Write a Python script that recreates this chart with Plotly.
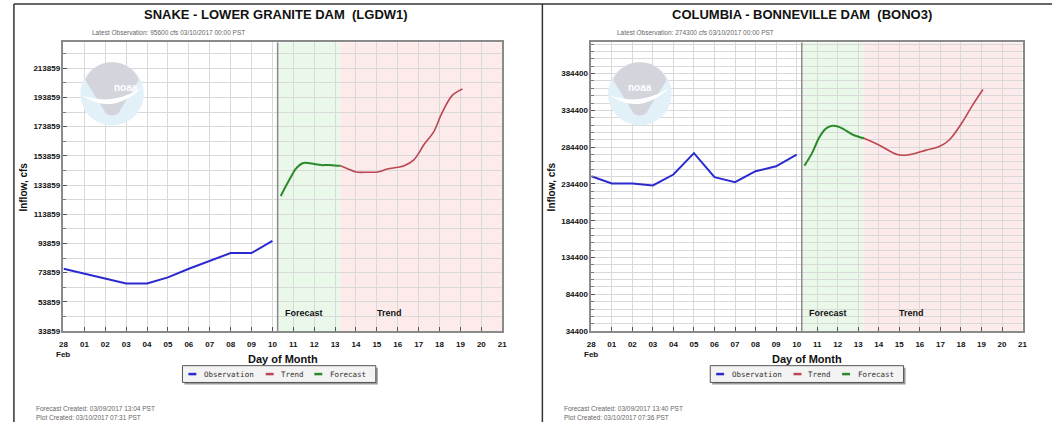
import plotly.graph_objects as go

W, H = 1057, 427

# ---------------- data ----------------
day_labels = ["28", "01", "02", "03", "04", "05", "06", "07", "08", "09", "10",
              "11", "12", "13", "14", "15", "16", "17", "18", "19", "20", "21"]

obs_days = [0, 1, 2, 3, 4, 5, 6, 7, 8, 9, 10]
snake_obs = [76500, 73200, 69900, 66500, 66500, 70600, 76500, 81700, 87300, 87300, 95600]
snake_fc_days = [10.4, 10.6, 10.77, 10.95, 11.08, 11.3, 11.48, 11.7, 12.0, 12.35, 12.66, 13.0, 13.26]
snake_fc = [126300, 132000, 136500, 141000, 144300, 147500, 148900, 149000, 148200, 147500, 147600, 147200, 147000]
snake_tr_days = [13.26, 13.6, 14.0, 14.5, 15.03, 15.5, 16.0, 16.3, 16.77, 17.0, 17.24, 17.72, 18.1, 18.6, 19.1]
snake_tr = [147000, 145000, 142800, 142600, 142800, 144800, 146000, 147000, 151100, 155500, 161300, 170300, 182700, 195100, 199600]

col_obs = [245000, 235100, 234900, 232400, 247200, 276300, 243700, 236900, 251700, 258400, 274300]
col_fc_days = [10.38, 10.75, 11.08, 11.4, 11.65, 11.8, 12.05, 12.28, 12.77, 13.28]
col_fc = [259300, 276300, 296500, 309000, 313000, 313600, 312000, 309000, 301000, 296500]
col_tr_days = [13.28, 14.05, 14.94, 15.5, 16.3, 16.95, 17.43, 18.08, 18.56, 19.07]
col_tr = [296500, 286700, 274000, 274300, 280400, 285300, 294200, 318900, 341200, 362800]

snake_yticks = [33859 + 20000 * k for k in range(10)]
col_yticks = [34400 + 50000 * k for k in range(8)]

OBS_C, TR_C, FC_C = "#2a2ad0", "#bc4652", "#2a8a2a"


def px(x):
    return x / W


def py(y):
    return 1 - y / H


fig = go.Figure()

# traces
for xa, ya, obs, fcd, fc, trd, tr in [
    ("x", "y", snake_obs, snake_fc_days, snake_fc, snake_tr_days, snake_tr),
    ("x2", "y2", col_obs, col_fc_days, col_fc, col_tr_days, col_tr),
]:
    fig.add_trace(go.Scatter(x=obs_days, y=obs, mode="lines", name="Observation",
                             line=dict(color=OBS_C, width=2), xaxis=xa, yaxis=ya, showlegend=False))
    fig.add_trace(go.Scatter(x=trd, y=tr, mode="lines", name="Trend",
                             line=dict(color=TR_C, width=1.6, shape="spline"), xaxis=xa, yaxis=ya, showlegend=False))
    fig.add_trace(go.Scatter(x=fcd, y=fc, mode="lines", name="Forecast",
                             line=dict(color=FC_C, width=2, shape="spline"), xaxis=xa, yaxis=ya, showlegend=False))

ydom = [py(335), py(43)]
grid_c = "#d9d9d9"
frame_c = "#8a8a8a"
tickfont = dict(family="Liberation Sans, Arial", size=8, color="#111")


def xaxis(dom, anchor):
    return dict(domain=dom, anchor=anchor, range=[0, 21], tickmode="array",
                tickvals=list(range(22)), ticktext=["<b>%s</b>" % t for t in day_labels],
                showgrid=True, gridcolor=grid_c, gridwidth=1, ticks="inside", ticklen=4,
                tickcolor="#555", showline=True, linecolor=frame_c, linewidth=1.5, mirror=True,
                tickfont=tickfont, zeroline=False, fixedrange=True, ticklabelstandoff=5)


def yaxis(rng, ticks, minor, anchor):
    return dict(domain=ydom, anchor=anchor, range=rng, tickmode="array", tickvals=ticks,
                ticktext=["<b>%d</b>" % t for t in ticks], showgrid=True, gridcolor=grid_c,
                ticks="inside", ticklen=4, tickcolor="#555",
                minor=dict(tick0=ticks[0], dtick=minor, showgrid=True, gridcolor=grid_c,
                           ticks="inside", ticklen=3, tickcolor="#777"),
                showline=True, linecolor=frame_c, linewidth=1.5, mirror=True,
                tickfont=tickfont, zeroline=False, fixedrange=True)


fig.update_layout(
    width=W, height=H, autosize=False,
    margin=dict(l=0, r=0, t=0, b=0),
    paper_bgcolor="white", plot_bgcolor="rgba(0,0,0,0)",
    xaxis=xaxis([px(60), px(502.5)], "y"),
    yaxis=yaxis([33859, 231450], snake_yticks, 10000, "x"),
    xaxis2=xaxis([px(592.3), px(1027.3)], "y2"),
    yaxis2=yaxis([34400, 426700], col_yticks, 10000, "x2"),
    showlegend=False,
)

shapes = []
annots = []

# shaded forecast / trend regions + separator
for xr, yr in [("x", "y"), ("x2", "y2")]:
    shapes.append(dict(type="rect", xref=xr, yref="paper", x0=10.25, x1=13.25, y0=ydom[0], y1=ydom[1],
                       fillcolor="#eaf8ea", line=dict(width=0), layer="below"))
    shapes.append(dict(type="rect", xref=xr, yref="paper", x0=13.25, x1=21, y0=ydom[0], y1=ydom[1],
                       fillcolor="#fdeaea", line=dict(width=0), layer="below"))
    shapes.append(dict(type="line", xref=xr, yref="paper", x0=10.25, x1=10.25, y0=ydom[0], y1=ydom[1],
                       line=dict(color="#8a8a8a", width=1.5)))
    annots.append(dict(xref=xr, yref="paper", x=11.52, y=py(324), text="<b>Forecast</b>", showarrow=False,
                       font=dict(family="Liberation Sans, Arial", size=9, color="#111")))
    annots.append(dict(xref=xr, yref="paper", x=15.6, y=py(324), text="<b>Trend</b>", showarrow=False,
                       font=dict(family="Liberation Sans, Arial", size=9, color="#111")))

# panel frames
shapes.append(dict(type="line", xref="paper", yref="paper", x0=px(10), x1=1, y0=py(4), y1=py(4),
                   line=dict(color="#333", width=1.5)))
shapes.append(dict(type="line", xref="paper", yref="paper", x0=px(10), x1=px(10), y0=py(4), y1=0,
                   line=dict(color="#333", width=1.5)))
shapes.append(dict(type="line", xref="paper", yref="paper", x0=px(543), x1=px(543), y0=py(4), y1=0,
                   line=dict(color="#333", width=1.5)))

panels = [
    dict(off=0, plotl=60, plotc=281, tc=274.5, title="SNAKE - LOWER GRANITE DAM  (LGDW1)",
         sub="Latest Observation: 95600 cfs 03/10/2017 00:00 PST", subx=87,
         f1="Forecast Created: 03/09/2017 13:04 PST", f2="Plot Created: 03/10/2017 07:31 PST", fx=30),
    dict(off=532.3, plotl=592.3, plotc=809.8, tc=805, title="COLUMBIA - BONNEVILLE DAM  (BONO3)",
         sub="Latest Observation: 274300 cfs 03/10/2017 00:00 PST", subx=616,
         f1="Forecast Created: 03/09/2017 13:40 PST", f2="Plot Created: 03/10/2017 07:36 PST", fx=563),
]

small = dict(family="Liberation Sans, Arial", size=6.5, color="#666")
for p in panels:
    o = p["off"]
    annots.append(dict(xref="paper", yref="paper", x=px(p["tc"]), y=py(15), text="<b>%s</b>" % p["title"],
                       showarrow=False, xanchor="center", yanchor="middle",
                       font=dict(family="Liberation Sans, Arial", size=13, color="#111")))
    annots.append(dict(xref="paper", yref="paper", x=px(p["subx"]), y=py(33), text=p["sub"], showarrow=False,
                       xanchor="left", yanchor="middle", font=small))
    annots.append(dict(xref="paper", yref="paper", x=px(p["fx"]), y=py(413), text=p["f1"], showarrow=False,
                       xanchor="left", yanchor="middle", font=small))
    annots.append(dict(xref="paper", yref="paper", x=px(p["fx"]), y=py(422), text=p["f2"], showarrow=False,
                       xanchor="left", yanchor="middle", font=small))
    annots.append(dict(xref="paper", yref="paper", x=px(p["plotc"]), y=py(363), text="<b>Day of Month</b>",
                       showarrow=False, xanchor="center", yanchor="middle",
                       font=dict(family="Liberation Sans, Arial", size=11, color="#111")))
    annots.append(dict(xref="paper", yref="paper", x=px(p["plotl"]), y=py(359), text="<b>Feb</b>",
                       showarrow=False, xanchor="center", yanchor="middle",
                       font=dict(family="Liberation Sans, Arial", size=8, color="#111")))
    annots.append(dict(xref="paper", yref="paper", x=px(p["plotl"] - 40), y=py(189), text="<b>Inflow, cfs</b>",
                       showarrow=False, textangle=-90, xanchor="center", yanchor="middle",
                       font=dict(family="Liberation Sans, Arial", size=10, color="#111")))

    # NOAA watermark
    cx, cy, r = p["plotl"] + 49, 95, 32
    shapes.append(dict(type="circle", xref="paper", yref="paper", x0=px(cx - r), x1=px(cx + r),
                       y0=py(cy + r), y1=py(cy - r), fillcolor="#e2f1f8", line=dict(width=0), layer="above"))
    path = "M %f,%f C %f,%f %f,%f %f,%f L %f,%f Q %f,%f %f,%f Z" % (
        px(cx - 27), py(cy - 14),
        px(cx - 18), py(cy - 38), px(cx + 18), py(cy - 38), px(cx + 27), py(cy - 14),
        px(cx + 6), py(cy + 20),
        px(cx), py(cy + 24), px(cx - 6), py(cy + 20))
    shapes.append(dict(type="path", xref="paper", yref="paper", path=path, fillcolor="#d3d4dc",
                       line=dict(width=0)))
    wing = "M %f,%f Q %f,%f %f,%f Q %f,%f %f,%f Z" % (
        px(cx - 30), py(cy + 2), px(cx), py(cy + 22), px(cx + 30), py(cy - 6),
        px(cx), py(cy + 12), px(cx - 30), py(cy + 2))
    shapes.append(dict(type="path", xref="paper", yref="paper", path=wing, fillcolor="white",
                       line=dict(width=0)))
    annots.append(dict(xref="paper", yref="paper", x=px(cx), y=py(cy - 14), text="<b>noaa</b>",
                       showarrow=False, font=dict(family="Liberation Sans, Arial", size=10, color="white")))

    # legend box
    bx0, bx1, by0, by1 = 180 + o, 375 + o, 370, 387
    shapes.append(dict(type="rect", xref="paper", yref="paper", x0=px(bx0 + 2), x1=px(bx1 + 2),
                       y0=py(by1 + 2), y1=py(by0 + 2), fillcolor="#9a9a9a", line=dict(width=0)))
    shapes.append(dict(type="rect", xref="paper", yref="paper", x0=px(bx0), x1=px(bx1),
                       y0=py(by1), y1=py(by0), fillcolor="#f3f3f3", line=dict(color="#555", width=1)))
    ly = (by0 + by1) / 2
    for dx0, col, label, tx in [(186, OBS_C, "Observation", 200), (264, TR_C, "Trend", 277),
                                (313, FC_C, "Forecast", 327)]:
        shapes.append(dict(type="line", xref="paper", yref="paper", x0=px(dx0 + o), x1=px(dx0 + 8 + o),
                           y0=py(ly), y1=py(ly), line=dict(color=col, width=2.5)))
        annots.append(dict(xref="paper", yref="paper", x=px(tx + o), y=py(ly), text=label, showarrow=False,
                           xanchor="left", yanchor="middle",
                           font=dict(family="DejaVu Sans Mono", size=7.5, color="#333")))

fig.update_layout(shapes=shapes, annotations=annots)
fig.write_html("out.html", config={"displayModeBar": False},
               post_script="document.body.style.margin='0';document.body.style.overflow='hidden';")
